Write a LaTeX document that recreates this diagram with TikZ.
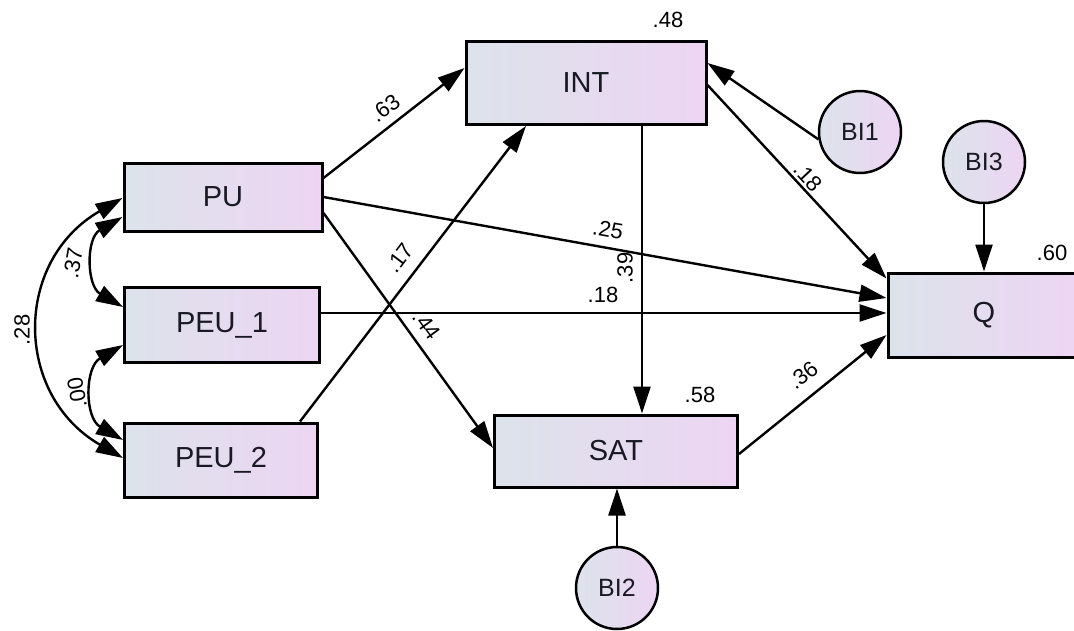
\documentclass[tikz,border=0pt]{standalone}
\usepackage{fontspec}
\setmainfont{Liberation Sans}
\usetikzlibrary{arrows.meta}
\usetikzlibrary{calc}
\definecolor{mgrey}{RGB}{220, 227, 235}
\definecolor{mlilac}{RGB}{237, 213, 243}
\definecolor{mink}{RGB}{25, 25, 35}

\begin{document}
\begin{tikzpicture}[x=1pt, y=1pt,
    obs/.style={draw, line width=3pt, left color=mgrey, right color=mlilac, text=mink, inner sep=0pt, font=\fontsize{29}{32}\selectfont},
    err/.style={circle, draw, line width=2.5pt, left color=mgrey, right color=mlilac, text=mink, minimum size=82pt, inner sep=0pt, font=\fontsize{25}{28}\selectfont},
    effect/.style={line width=2.4pt, -{Triangle[length=27pt, width=17pt]}},
    cov/.style={line width=2.4pt, {Triangle[length=27pt, width=17pt]}-{Triangle[length=27pt, width=17pt]}},
    coef/.style={font=\fontsize{22}{24}\selectfont, inner sep=0pt}]
    \useasboundingbox (0, 0) rectangle (1074, -630);

    \node [obs, minimum width=198pt, minimum height=68pt] (PU) at (223, -197) {PU};
    \node [obs, minimum width=195pt, minimum height=75pt] (PEU1) at (222, -325) {PEU\_1};
    \node [obs, minimum width=193pt, minimum height=74pt] (PEU2) at (221, -460) {PEU\_2};
    \node [obs, minimum width=240pt, minimum height=83pt] (INT) at (586, -83) {INT};
    \node [obs, minimum width=243pt, minimum height=72pt] (SAT) at (616, -451) {SAT};
    \node [obs, minimum width=192pt, minimum height=84pt] (Q) at (984, -315) {Q};
    \node [err] (BI1) at (860, -132) {BI1};
    \node [err] (BI3) at (984, -162) {BI3};
    \node [err] (BI2) at (617, -588) {BI2};

    \draw [effect] ($(PU.east)+(0, 19)$) -- ($(INT.west)+(0, 15)$);
    \draw [effect] (PU.east) -- ($(Q.west)+(0, 17)$);
    \draw [effect] ($(PU.east)+(0, -16)$) -- ($(SAT.west)+(0, 3)$);
    \draw [effect] ($(PEU2.north)+(79, 0)$) -- ($(INT.south)+(-60, 0)$);
    \draw [effect] ($(PEU1.east)+(0, 12)$) -- ($(Q.west)+(0, 2)$);
    \draw [effect] ($(INT.south)+(56, 0)$) -- ($(SAT.north)+(26, 0)$);
    \draw [effect] ($(INT.east)+(0, -2)$) -- ($(Q.north west)+(0, -7)$);
    \draw [effect] (BI1.190) -- ($(INT.east)+(0, 20)$);
    \draw [effect] (BI3) -- (Q);
    \draw [effect] ($(SAT.east)+(0, -3)$) -- ($(Q.west)+(0, -20)$);
    \draw [effect] (BI2) -- (BI2 |- SAT.south);

    \draw [cov] ($(PU.west)+(0, -20)$) to [out=210, in=150, looseness=1.2] ($(PEU1.west)+(0, 18)$);
    \draw [cov] ($(PEU1.west)+(0, -20)$) to [out=210, in=150, looseness=1.2] ($(PEU2.west)+(0, 20)$);
    \draw [cov] ($(PU.west)+(0, -1)$) to [out=210, in=150, looseness=1.24] ($(PEU2.west)+(0, 2)$);

    \node [coef, rotate=37] (c63) at (385, -108) {.63};
    \node [coef, rotate=53] (c17) at (400, -258) {.17};
    \node [coef, rotate=-10] (c25) at (608, -230) {.25};
    \node [coef, rotate=90] (c39) at (625, -268) {.39};
    \node [coef] (c18a) at (603, -295) {.18};
    \node [coef, rotate=-54] (c44) at (427, -325) {.44};
    \node [coef, rotate=-47] (c18b) at (808, -177) {.18};
    \node [coef, rotate=38] (c36) at (803, -375) {.36};
    \node [coef, rotate=90] (c28) at (22, -330) {.28};
    \node [coef, rotate=80] (c37) at (73, -263) {.37};
    \node [coef, rotate=100] (c00) at (77, -393) {.00};
    \node [coef] (r48) at (668, -20) {.48};
    \node [coef] (r58) at (700, -395) {.58};
    \node [coef] (r60) at (1052, -253) {.60};
  \end{tikzpicture}
\end{document}
